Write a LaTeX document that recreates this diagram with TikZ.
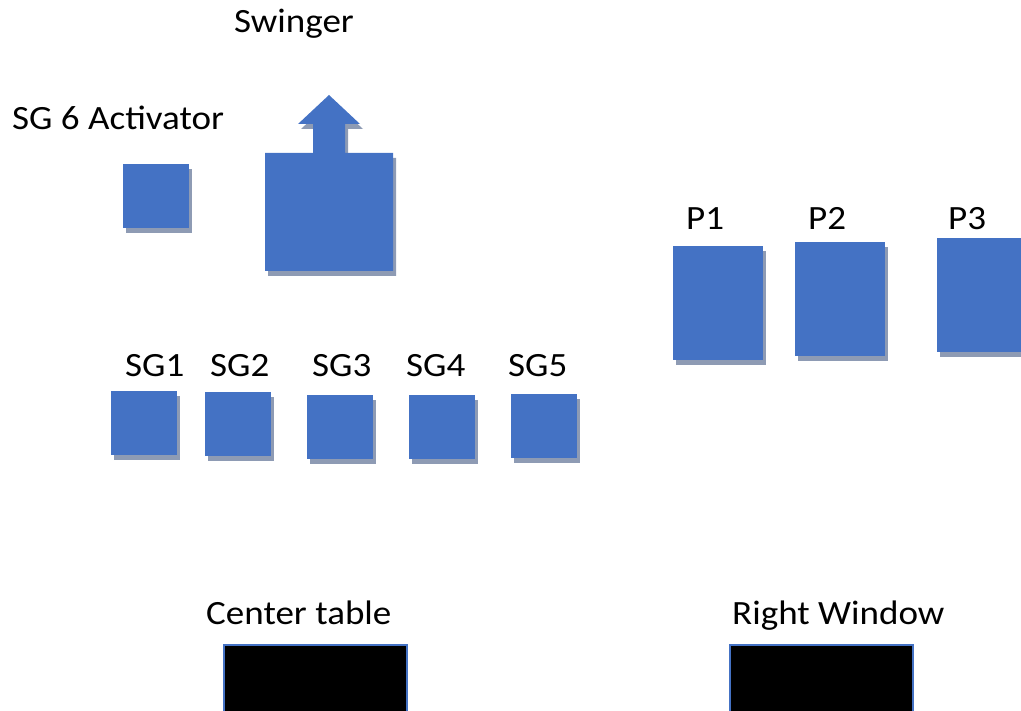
\documentclass[tikz,border=0pt]{standalone}
\usepackage{fontspec}
\setmainfont{Carlito}[FakeStretch=1.09]
\usetikzlibrary{shadows}
\definecolor{boxblue}{RGB}{68,114,196}
\definecolor{shadowc}{RGB}{142,155,180}
\begin{document}
\begin{tikzpicture}[x=1pt,y=-1pt,
  lbl/.style={anchor=base west,inner sep=0pt,font=\fontsize{34}{40}\selectfont},
  bluebox/.style={fill=boxblue,draw=none,inner sep=0pt,anchor=north west,
    drop shadow={shadow xshift=3pt,shadow yshift=-5pt,fill=shadowc,opacity=1}},
  blackbox/.style={fill=black,draw=boxblue,line width=2pt,inner sep=0pt,anchor=north west}]
\useasboundingbox (0,0) rectangle (1021,711);
\clip (0,0) rectangle (1021,711);
% labels
\node[lbl] (tsw) at (234,33) {Swinger};
\node[lbl] (tact) at (12,130) {SG 6 Activator};
\node[lbl] (tp1) at (686,230) {P1};
\node[lbl] (tp2) at (808,230) {P2};
\node[lbl] (tp3) at (948,230) {P3};
\node[lbl] (tsg1) at (125,377) {SG1};
\node[lbl] (tsg2) at (210,377) {SG2};
\node[lbl] (tsg3) at (312,377) {SG3};
\node[lbl] (tsg4) at (406,377) {SG4};
\node[lbl] (tsg5) at (508,377) {SG5};
\node[lbl] (tct) at (206,624) {Center table};
\node[lbl] (trw) at (732,624) {Right Window};
% swinger shape
\fill[boxblue,drop shadow={shadow xshift=3pt,shadow yshift=-5pt,fill=shadowc,opacity=1}]
  (265,153) -- (313,153) -- (313,124) -- (298,124) -- (329,95) -- (360,124)
  -- (345,124) -- (345,153) -- (393,153) -- (393,271) -- (265,271) -- cycle;
% boxes
\node[bluebox,minimum width=66pt,minimum height=64pt] (act) at (123,164) {};
\node[bluebox,minimum width=90pt,minimum height=114pt] (p1) at (673,246) {};
\node[bluebox,minimum width=90pt,minimum height=114pt] (p2) at (795,242) {};
\node[bluebox,minimum width=90pt,minimum height=114pt] (p3) at (937,238) {};
\node[bluebox,minimum width=66pt,minimum height=64pt] (sg1) at (111,391) {};
\node[bluebox,minimum width=66pt,minimum height=64pt] (sg2) at (205,392) {};
\node[bluebox,minimum width=66pt,minimum height=64pt] (sg3) at (307,395) {};
\node[bluebox,minimum width=66pt,minimum height=64pt] (sg4) at (409,395) {};
\node[bluebox,minimum width=66pt,minimum height=64pt] (sg5) at (511,394) {};
\node[blackbox,minimum width=183pt,minimum height=75pt] (ct) at (223,644) {};
\node[blackbox,minimum width=183pt,minimum height=75pt] (rw) at (729,644) {};
\end{tikzpicture}
\end{document}
